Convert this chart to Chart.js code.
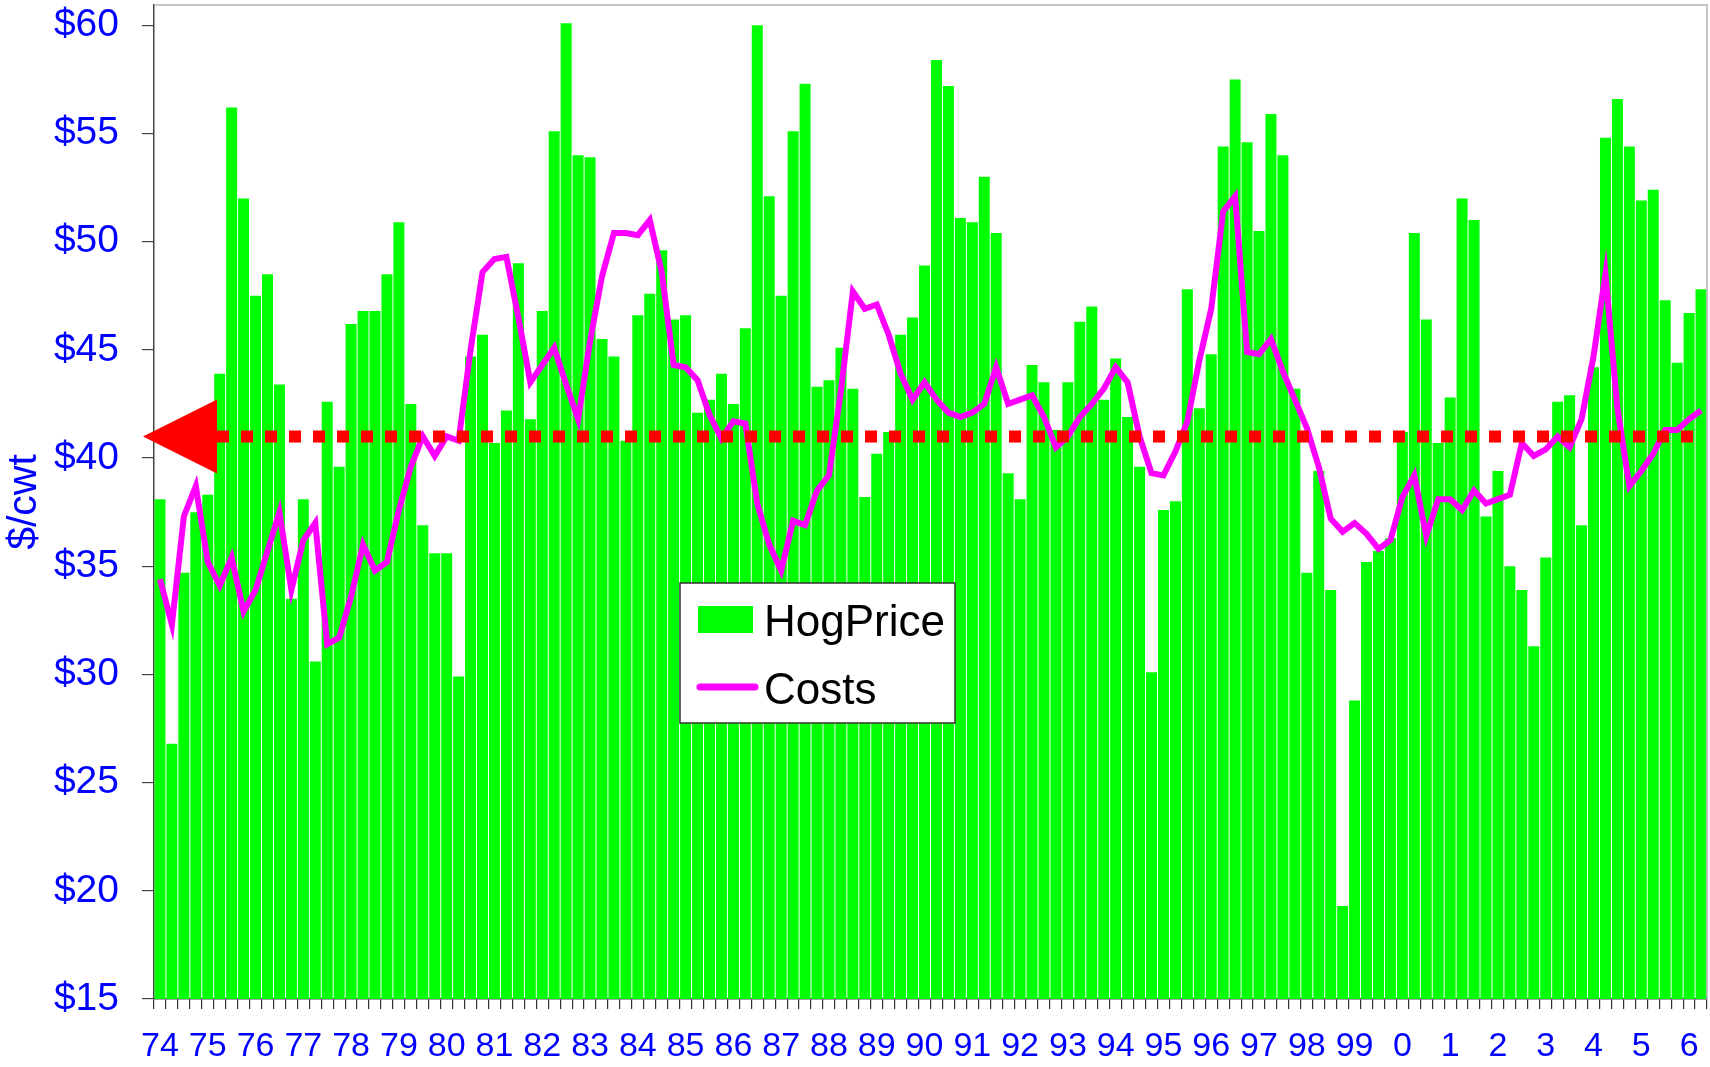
<!DOCTYPE html>
<html>
<head>
<meta charset="utf-8">
<title>HogPrice vs Costs</title>
<script src="https://cdn.jsdelivr.net/npm/chart.js@4.4.0/dist/chart.umd.min.js"></script>
<style>
  html,body{margin:0;padding:0;background:#fff;}
  #wrap{width:1710px;height:1067px;position:relative;}
</style>
</head>
<body>
<div id="wrap"><canvas id="hogChart"></canvas></div>
<script>
/* DATA - quarterly, 1974 Q1 .. 2006 Q2 */
const yearLabels = ["74","75","76","77","78","79","80","81","82","83","84","85","86","87","88","89",
  "90","91","92","93","94","95","96","97","98","99","0","1","2","3","4","5","6"];

const hogPrice = [
  38.1,26.8,34.7,37.5, 38.3,43.9,56.2,52.0, 47.5,48.5,43.4,33.5, 38.1,30.6,42.6,39.6,
  46.2,46.8,46.8,48.5, 50.9,42.5,36.9,35.6, 35.6,29.9,44.7,45.7, 40.7,42.2,49.0,41.8,
  46.8,55.1,60.1,54.0, 53.9,45.5,44.7,40.8, 46.6,47.6,49.6,46.4, 46.6,42.1,42.7,43.9,
  42.5,46.0,60.0,52.1, 47.5,55.1,57.3,43.3, 43.6,45.1,43.2,38.2, 40.2,41.2,45.7,46.5,
  48.9,58.4,57.2,51.1, 50.9,53.0,50.4,39.3, 38.1,44.3,43.5,41.3, 43.5,46.3,47.0,42.7,
  44.6,41.9,39.6,30.1, 37.6,38.0,47.8,42.3, 44.8,54.4,57.5,54.6, 50.5,55.9,54.0,43.2,
  34.7,39.4,33.9,19.3, 28.8,35.2,35.7,36.3, 41.2,50.4,46.4,40.7, 42.8,52.0,51.0,37.3,
  39.4,35.0,33.9,31.3, 35.4,42.6,42.9,36.9, 44.2,54.8,56.6,54.4, 51.9,52.4,47.3,44.4,
  46.7,47.8
];

const costs = [
  34.4,32.3,37.3,38.7, 35.2,34.1,35.4,32.9, 33.9,35.7,37.5,33.9, 36.2,37.0,31.4,31.7,
  33.6,36.0,34.8,35.2, 37.6,39.6,41.0,40.1, 41.0,40.8,45.0,48.6, 49.2,49.3,46.5,43.5,
  44.3,45.1,43.4,41.8, 45.4,48.4,50.4,50.4, 50.3,51.0,48.6,44.3, 44.2,43.6,42.0,40.9,
  41.7,41.6,37.9,36.0, 34.8,37.1,36.9,38.5, 39.2,43.1,47.7,46.9, 47.1,45.7,43.9,42.7,
  43.5,42.7,42.1,41.9, 42.1,42.5,44.2,42.5, 42.7,42.9,41.9,40.5, 41.0,41.9,42.5,43.2,
  44.2,43.5,41.0,39.3, 39.2,40.3,41.7,44.5, 46.9,51.4,52.1,44.9, 44.8,45.5,44.0,42.7,
  41.4,39.6,37.2,36.6, 37.0,36.5,35.8,36.2, 38.2,39.2,36.4,38.1, 38.1,37.6,38.5,37.9,
  38.1,38.3,40.7,40.1, 40.4,41.0,40.5,41.8, 44.7,48.5,42.3,38.7, 39.4,40.2,41.3,41.3,
  41.8,42.2
];

const breakEven = 41;      // red marker level, $/cwt
const yMin = 15, yMax = 60.94, yStep = 5;

const quarters = [];
yearLabels.forEach(y=>{
  for(let q=1;q<=4;q++) quarters.push(y + " Q" + q);
});
quarters.length = hogPrice.length;

const FONT = "'Liberation Sans', Arial, Helvetica, sans-serif";
const BLUE = "#0000ff";

/* red arrow + dotted level line */
const breakEvenPlugin = {
  id: "breakEven",
  afterDatasetsDraw(chart){
    const {ctx, chartArea:a} = chart;
    const py = chart.scales.y.getPixelForValue(breakEven);
    ctx.save();
    ctx.fillStyle = "#ff0000";
    ctx.beginPath();
    ctx.moveTo(a.left - 11, py);
    ctx.lineTo(a.left + 63, py - 37);
    ctx.lineTo(a.left + 63, py + 37);
    ctx.closePath();
    ctx.fill();

    ctx.strokeStyle = "#ff0000";
    ctx.lineWidth = 12;
    ctx.setLineDash([12,12]);
    ctx.beginPath();
    ctx.moveTo(a.left + 63, py);
    ctx.lineTo(a.right - 10, py);
    ctx.stroke();
    ctx.restore();
  }
};

/* frame + legend box */
const framePlugin = {
  id: "frame",
  afterDraw(chart){
    const {ctx, chartArea:a} = chart;
    ctx.save();
    ctx.strokeStyle = "#b4b4b4";
    ctx.lineWidth = 1.5;
    ctx.beginPath();
    ctx.moveTo(a.left, a.top);
    ctx.lineTo(a.right, a.top);
    ctx.lineTo(a.right, a.bottom);
    ctx.stroke();

    // legend
    const bx = a.left + 526, by = a.top + 578, bw = 275, bh = 140;
    ctx.fillStyle = "#fff";
    ctx.fillRect(bx, by, bw, bh);
    ctx.strokeStyle = "#333";
    ctx.lineWidth = 1.5;
    ctx.strokeRect(bx, by, bw, bh);

    const ds = chart.data.datasets;
    ctx.fillStyle = ds[0].backgroundColor;
    ctx.fillRect(bx + 18, by + 23, 55, 27);

    ctx.strokeStyle = ds[1].borderColor;
    ctx.lineWidth = 7;
    ctx.lineCap = "round";
    ctx.beginPath();
    ctx.moveTo(bx + 20, by + 104);
    ctx.lineTo(bx + 75, by + 104);
    ctx.stroke();

    ctx.fillStyle = "#000";
    ctx.font = "44px " + FONT;
    ctx.textBaseline = "alphabetic";
    ctx.fillText(ds[0].label, bx + 84, by + 53);
    ctx.fillText(ds[1].label, bx + 84, by + 121);
    ctx.restore();
  }
};

new Chart(document.getElementById("hogChart"), {
  type: "bar",
  data: {
    labels: quarters,
    datasets: [
      {
        label: "HogPrice",
        data: hogPrice,
        backgroundColor: "#00ff00",
        barPercentage: 0.92,
        categoryPercentage: 1.0,
        order: 2
      },
      {
        type: "line",
        label: "Costs",
        data: costs,
        borderColor: "#ff00ff",
        backgroundColor: "#ff00ff",
        borderWidth: 6,
        pointRadius: 0,
        tension: 0,
        fill: false,
        order: 1
      }
    ]
  },
  options: {
    responsive: true,
    maintainAspectRatio: false,
    animation: false,
    layout: { padding: { top: 5, right: 3, left: 0, bottom: 0 } },
    plugins: {
      legend: { display: false },
      tooltip: { enabled: false }
    },
    scales: {
      x: {
        grid: { offset: true, drawOnChartArea: false, drawTicks: true, tickLength: 10, color: "#333", lineWidth: 1.2 },
        border: { color: "#444", width: 1.5 },
        ticks: {
          autoSkip: false,
          maxRotation: 0,
          minRotation: 0,
          padding: 17,
          color: BLUE,
          font: { family: FONT, size: 34 },
          callback: (v, i) => i % 4 === 0 ? yearLabels[i / 4] : ""
        },
        afterFit(s){ s.height = 68; s.paddingLeft = 0; s.paddingRight = 0; }
      },
      y: {
        min: yMin,
        max: yMax,
        grid: { drawOnChartArea: false, drawTicks: true, tickLength: 12, color: "#444", lineWidth: 1.2 },
        border: { color: "#444", width: 1.5 },
        ticks: {
          stepSize: yStep,
          includeBounds: false,
          padding: 23,
          color: BLUE,
          font: { family: FONT, size: 39 },
          callback: v => "$" + v
        },
        title: {
          display: true,
          text: "$/cwt",
          color: BLUE,
          font: { family: FONT, size: 41 },
          padding: { top: 0, bottom: 0 }
        },
        afterFit(s){ s.width = 154; s.paddingTop = 0; s.paddingBottom = 0; }
      }
    }
  },
  plugins: [breakEvenPlugin, framePlugin]
});
</script>
</body>
</html>
